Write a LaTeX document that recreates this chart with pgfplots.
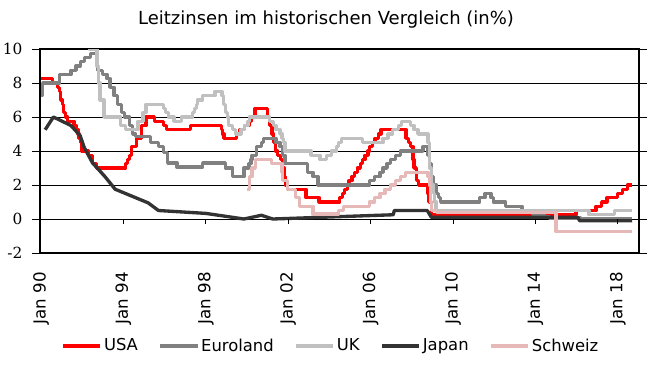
\documentclass[border=0pt]{standalone}
\usepackage{pgfplots}
\pgfplotsset{compat=1.18}
\usepackage{fontspec}
\setmainfont{DejaVu Sans}
\newfontfamily\ynumfont{DejaVu Serif}
\definecolor{cUSA}{RGB}{255,0,0}
\definecolor{cEU}{RGB}{128,128,128}
\definecolor{cUK}{RGB}{192,192,192}
\definecolor{cJP}{RGB}{51,51,51}
\definecolor{cCH}{RGB}{230,185,184}
\begin{document}
\begin{tikzpicture}
\useasboundingbox (-30pt,-92.25pt) rectangle (457.5pt,189.75pt);
\begin{axis}[
  name=ax,
  at={(0pt,0pt)}, anchor=south west,
  scale only axis, width=449.25pt, height=153pt,
  xmin=1989.95, xmax=2019.03, ymin=-2, ymax=10,
  xtick={1990,1994,1998,2002,2006,2010,2014,2018},
  xticklabels={Jan 90,Jan 94,Jan 98,Jan 02,Jan 06,Jan 10,Jan 14,Jan 18},
  x tick label style={rotate=90, anchor=east, font=\fontsize{12.5}{15}\selectfont, inner sep=0pt},
  xticklabel shift=8pt,
  major x tick style={draw=none},
  ytick={-2,0,2,4,6,8,10},
  yticklabels={-2,0,2,4,6,8,10},
  y tick label style={font=\ynumfont\fontsize{11.5}{13}\selectfont, inner sep=0pt},
  yticklabel shift=7pt,
  tick align=outside,
  major tick length=6pt,
  major y tick style={black, line width=0.7pt},
  ymajorgrids, grid style={black, line width=0.7pt},
  axis line style={black, line width=0.8pt},
  legend style={at={(0.485,-0.455)}, anchor=center, draw=none, fill=none,
    font=\fontsize{12.3}{14}\selectfont, inner sep=0pt,
    nodes={inner sep=1.2pt},
    /tikz/every even column/.append style={column sep=14pt}},
  legend columns=5,
  legend image code/.code={\draw[#1, line width=3pt] (0pt,0pt) -- (28pt,0pt);},
  every axis plot/.append style={line width=2.5pt, line join=round},
]
% USA
\addplot[cUSA, const plot] coordinates {
(1990.0,8.25)(1990.55,8.0)(1990.8,7.75)(1990.9,7.5)(1990.95,7.0)(1991.05,6.75)(1991.1,6.25)(1991.2,6.0)(1991.3,5.75)(1991.6,5.5)(1991.7,5.25)(1991.8,5.0)(1991.85,4.75)(1991.93,4.5)(1991.98,4.0)(1992.3,3.75)(1992.5,3.25)(1992.7,3.0)
(1994.1,3.25)(1994.2,3.5)(1994.3,3.75)(1994.38,4.25)(1994.62,4.75)(1994.87,5.5)(1995.1,6.0)(1995.5,5.75)(1995.95,5.5)(1996.08,5.25)(1997.25,5.5)(1998.75,5.25)(1998.8,5.0)(1998.88,4.75)
(1999.5,5.0)(1999.65,5.25)(1999.88,5.5)(2000.1,5.75)(2000.2,6.0)(2000.38,6.5)(2001.0,6.0)(2001.08,5.5)(2001.22,5.0)(2001.3,4.5)(2001.38,4.0)(2001.48,3.75)(2001.63,3.5)(2001.72,3.0)(2001.8,2.5)(2001.88,2.0)(2001.95,1.75)
(2002.87,1.25)(2003.5,1.0)(2004.5,1.25)(2004.62,1.5)(2004.72,1.75)(2004.87,2.0)(2004.95,2.25)(2005.1,2.5)(2005.22,2.75)(2005.35,3.0)(2005.5,3.25)(2005.62,3.5)(2005.72,3.75)(2005.87,4.0)(2005.95,4.25)(2006.08,4.5)(2006.22,4.75)(2006.38,5.0)(2006.5,5.25)
(2007.72,4.75)(2007.83,4.5)(2007.95,4.25)(2008.05,3.5)(2008.1,3.0)(2008.22,2.25)(2008.33,2.0)(2008.78,1.5)(2008.83,1.0)(2008.95,0.25)
(2015.97,0.5)(2016.95,0.75)(2017.22,1.0)(2017.47,1.25)(2017.97,1.5)(2018.22,1.75)(2018.47,2.0)(2018.7,2.0)
};
\addlegendentry{USA}
% Euroland
\addplot[cEU, const plot] coordinates {
(1990.0,7.3)(1990.08,8.0)(1990.9,8.5)(1991.45,8.75)(1991.7,9.0)(1991.9,9.25)(1992.1,9.5)(1992.4,9.75)(1992.7,9.25)(1992.75,8.75)(1993.0,8.5)(1993.2,8.25)(1993.35,7.75)(1993.55,7.25)(1993.7,6.75)(1993.9,6.25)(1994.05,6.0)(1994.3,5.5)(1994.45,5.0)(1994.6,4.85)
(1995.3,4.5)(1995.7,4.25)(1995.95,3.9)(1996.15,3.3)(1996.6,3.05)(1997.85,3.3)(1998.95,3.0)(1999.3,2.5)(1999.85,3.0)(2000.1,3.25)(2000.2,3.5)(2000.25,3.75)(2000.45,4.25)(2000.7,4.5)(2000.8,4.75)
(2001.4,4.5)(2001.6,4.25)(2001.72,3.75)(2001.85,3.25)(2002.95,2.75)(2003.2,2.5)(2003.45,2.0)(2005.95,2.25)(2006.2,2.5)(2006.45,2.75)(2006.6,3.0)(2006.8,3.25)(2006.95,3.5)(2007.2,3.75)(2007.45,4.0)(2008.55,4.25)
(2008.78,3.75)(2008.85,3.25)(2008.95,2.5)(2009.05,2.0)(2009.2,1.5)(2009.3,1.25)(2009.4,1.0)(2011.3,1.25)(2011.55,1.5)(2011.85,1.25)(2011.95,1.0)(2012.55,0.75)(2013.35,0.5)(2013.85,0.25)(2014.45,0.15)(2014.7,0.05)(2016.2,0.0)(2018.7,0.0)
};
\addlegendentry{Euroland}
% UK
\addplot[cUK, const plot] coordinates {
(1990.0,15)(1990.77,14)(1991.1,13.5)(1991.15,13)(1991.25,12.5)(1991.3,12)(1991.4,11.5)(1991.55,11)(1991.7,10.5)(1992.35,10)(1992.72,9)(1992.78,8)(1992.87,7)(1993.05,6)(1993.87,5.5)(1994.1,5.25)(1994.7,5.75)(1994.95,6.25)(1995.1,6.75)
(1995.95,6.5)(1996.05,6.25)(1996.2,6.0)(1996.45,5.75)(1996.82,6.0)(1997.35,6.25)(1997.45,6.5)(1997.55,6.75)(1997.6,7.0)(1997.85,7.25)(1998.45,7.5)(1998.78,7.25)(1998.85,6.75)(1998.95,6.25)(1999.05,6.0)(1999.1,5.5)(1999.3,5.25)(1999.45,5.0)
(1999.7,5.25)(1999.87,5.5)(2000.05,5.75)(2000.12,6.0)(2001.1,5.75)(2001.3,5.5)(2001.4,5.25)(2001.6,5.0)(2001.7,4.75)(2001.78,4.5)(2001.85,4.0)(2003.1,3.75)(2003.55,3.5)(2003.85,3.75)(2004.1,4.0)(2004.35,4.25)(2004.45,4.5)(2004.6,4.75)
(2005.6,4.5)(2006.6,4.75)(2006.85,5.0)(2007.05,5.25)(2007.35,5.5)(2007.5,5.75)(2007.95,5.5)(2008.1,5.25)(2008.3,5.0)(2008.78,4.5)(2008.85,3.0)(2008.95,2.0)(2009.05,1.5)(2009.1,1.0)(2009.18,0.5)(2016.6,0.25)(2017.85,0.5)(2018.7,0.5)
};
\addlegendentry{UK}
% Japan
\addplot[cJP, sharp plot] coordinates {
(1990.2,5.25)(1990.6,6.0)(1991.45,5.5)(1991.9,4.9)(1992.1,4.2)(1992.5,3.3)(1993.1,2.5)(1993.6,1.75)(1994.2,1.45)(1995.2,0.95)(1995.7,0.5)(1998.0,0.33)(1999.85,0.0)(2000.7,0.22)(2001.25,0.0)(2007.1,0.25)(2007.15,0.5)(2008.75,0.5)(2008.95,0.1)(2016.05,0.1)(2016.15,-0.1)(2018.7,-0.1)
};
\addlegendentry{Japan}
% Schweiz
\addplot[cCH, const plot] coordinates {
(2000.0,1.75)(2000.12,2.5)(2000.25,3.0)(2000.4,3.5)(2001.2,3.25)(2001.7,2.75)(2001.73,2.25)(2001.95,1.75)(2002.35,1.25)(2002.55,0.75)(2003.2,0.3)(2004.45,0.5)(2004.7,0.75)(2005.95,1.0)(2006.2,1.25)(2006.45,1.5)(2006.7,1.75)(2006.95,2.0)(2007.2,2.25)(2007.45,2.5)(2007.7,2.75)
(2008.78,2.5)(2008.85,2.0)(2008.9,1.0)(2008.95,0.5)(2009.2,0.4)(2015.0,-0.75)(2018.7,-0.75)
};
\addlegendentry{Schweiz}
\pgfplotsinvokeforeach{1994,1998,2002,2006,2010,2014,2018}{
  \draw[black, line width=0.7pt] (axis cs:#1,0) -- ++(0pt,-4pt);
}
\end{axis}
\node[font=\fontsize{13.5}{16}\selectfont] at (214.5pt,174.75pt) {Leitzinsen im historischen Vergleich (in\%)};
\end{tikzpicture}
\end{document}
